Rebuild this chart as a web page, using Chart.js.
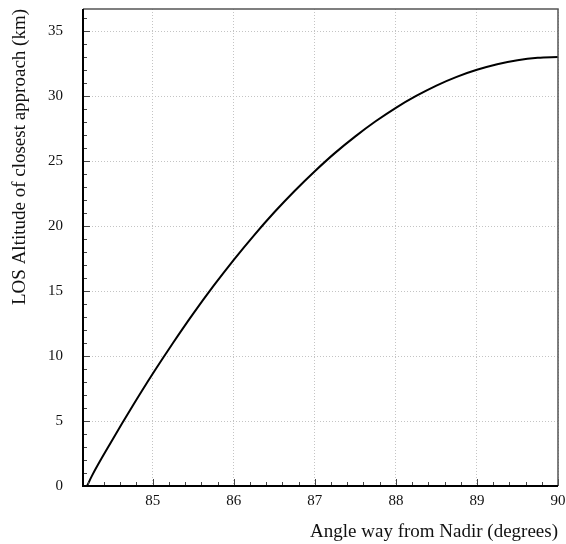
<!DOCTYPE html>
<html>
<head>
<meta charset="utf-8">
<script src="https://cdn.jsdelivr.net/npm/chart.js@4/dist/chart.umd.min.js"></script>
<style>
html,body{margin:0;padding:0;background:#fff;}
#wrap{width:566px;height:544px;}
</style>
</head>
<body>
<div id="wrap"><canvas id="c" width="566" height="544"></canvas></div>
<script>
// Data
const angles = [84.19, 84.25, 84.5, 84.75, 85, 85.25, 85.5, 85.75, 86, 86.25, 86.5, 86.75, 87, 87.25, 87.5, 87.75, 88, 88.25, 88.5, 88.75, 89, 89.25, 89.5, 89.75, 90];
const altitudes = [0, 0.78, 3.52, 6.13, 8.63, 11.00, 13.26, 15.39, 17.40, 19.29, 21.06, 22.70, 24.22, 25.63, 26.90, 28.06, 29.10, 30.01, 30.81, 31.48, 32.02, 32.45, 32.76, 32.94, 33.00];
const xTickValues = [85, 86, 87, 88, 89, 90];
const yTickValues = [0, 5, 10, 15, 20, 25, 30, 35];
const xTitle = 'Angle way from Nadir (degrees)';
const yTitle = 'LOS Altitude of closest approach (km)';

const points = angles.map((a, i) => ({x: a, y: altitudes[i]}));
const FONT = '"Liberation Serif", "Times New Roman", serif';

const frameTicks = {
  id: 'frameTicks',
  afterDatasetsDraw(chart) {
    const {ctx, chartArea: ca, scales: {x, y}} = chart;
    ctx.save();
    ctx.strokeStyle = '#444';
    ctx.lineWidth = 1;
    ctx.beginPath();
    for (let k = 0; k <= 30; k++) {
      const v = 84 + k * 0.2;
      if (v < x.min - 1e-6 || v > x.max + 1e-6) continue;
      const px = Math.round(x.getPixelForValue(v)) + 0.5;
      const major = k % 5 === 0;
      const len = major ? 7 : 4;
      ctx.moveTo(px, ca.bottom); ctx.lineTo(px, ca.bottom - len);
    }
    for (let v = 0; v <= y.max + 1e-6; v += 1) {
      const py = Math.round(y.getPixelForValue(v)) + 0.5;
      const major = v % 5 === 0;
      const len = major ? 7 : 4;
      ctx.moveTo(ca.left, py); ctx.lineTo(ca.left + len, py);
    }
    ctx.stroke();
    ctx.strokeStyle = '#555';
    ctx.lineWidth = 1.5;
    ctx.beginPath();
    ctx.moveTo(ca.left, ca.top); ctx.lineTo(ca.right, ca.top); ctx.lineTo(ca.right, ca.bottom);
    ctx.stroke();
    ctx.strokeStyle = '#000';
    ctx.lineWidth = 2;
    ctx.beginPath();
    ctx.moveTo(ca.left, ca.top); ctx.lineTo(ca.left, ca.bottom); ctx.lineTo(ca.right, ca.bottom);
    ctx.stroke();
    ctx.restore();
  }
};

new Chart(document.getElementById('c'), {
  type: 'line',
  data: {
    datasets: [{
      data: points,
      borderColor: '#000',
      borderWidth: 2,
      pointRadius: 0,
      cubicInterpolationMode: 'monotone',
      fill: false
    }]
  },
  options: {
    responsive: false,
    animation: false,
    layout: {padding: {top: 9, right: 8, left: 0, bottom: 0}},
    plugins: {legend: {display: false}, tooltip: {enabled: false}},
    scales: {
      x: {
        type: 'linear',
        min: 84.14,
        max: 90,
        afterBuildTicks(s) { s.ticks = xTickValues.map(v => ({value: v})); },
        afterFit(s) { s.height = 58; s.paddingLeft = 0; s.paddingRight = 0; },
        grid: {color: '#c4c4c4', lineWidth: 1, drawTicks: false},
        border: {display: false, dash: [1, 2]},
        ticks: {padding: 6, color: '#111', font: {family: FONT, size: 15}, maxRotation: 0},
        title: {display: true, text: xTitle, align: 'end', color: '#111', font: {family: FONT, size: 19}, padding: {top: 0, bottom: 1}}
      },
      y: {
        type: 'linear',
        min: 0,
        max: 36.7,
        afterBuildTicks(s) { s.ticks = yTickValues.map(v => ({value: v})); },
        afterFit(s) { s.width = 83; s.paddingTop = 0; s.paddingBottom = 0; },
        grid: {color: '#c4c4c4', lineWidth: 1, drawTicks: false},
        border: {display: false, dash: [1, 2]},
        ticks: {padding: 20, color: '#111', font: {family: FONT, size: 15}},
        title: {display: true, text: yTitle, align: 'end', color: '#111', font: {family: FONT, size: 19}, padding: {top: 9, bottom: 0}}
      }
    }
  },
  plugins: [frameTicks]
});
</script>
</body>
</html>
